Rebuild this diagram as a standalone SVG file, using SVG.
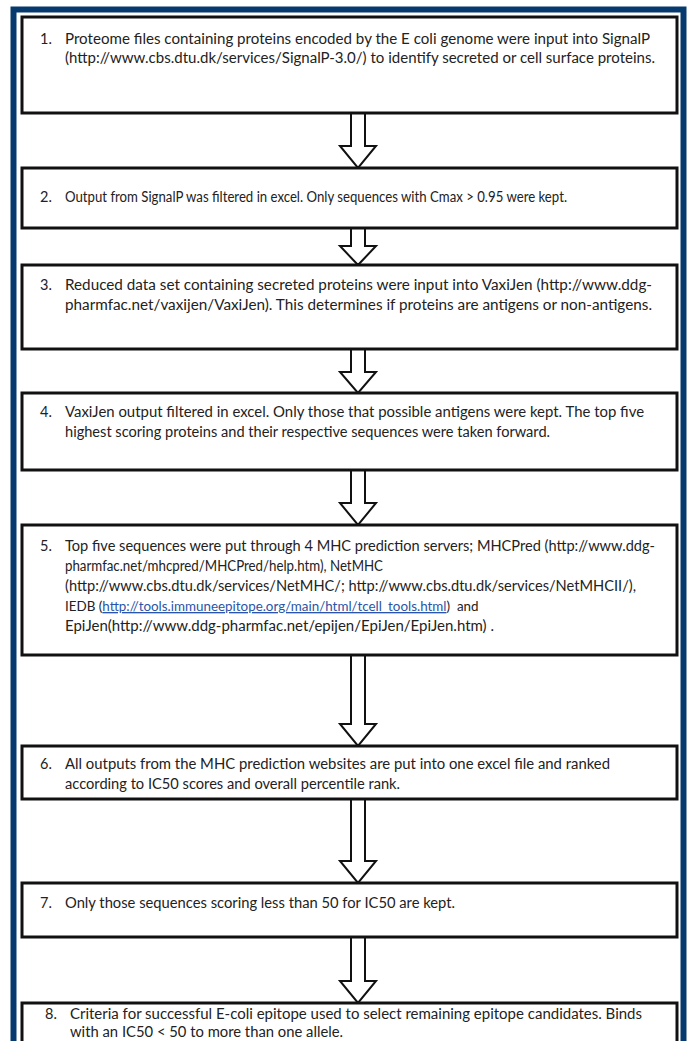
<svg xmlns="http://www.w3.org/2000/svg" width="688" height="1041" viewBox="0 0 688 1041">
<style>
.bg{fill:#fff}
.frame{fill:none;stroke:#063a6e;stroke-width:6}
.box{fill:#fff;stroke:#111;stroke-width:3}
.arr{fill:#fff;stroke:#111;stroke-width:2;stroke-linejoin:miter}
text{font-family:"Lato","Liberation Sans",sans-serif;font-size:14.5px;fill:#222}
.link{fill:#2a55a8;text-decoration:underline}
.sm{font-size:13.4px}
</style>
<rect class="bg" x="0" y="0" width="688" height="1041"/>
<rect class="frame" x="13.5" y="9.5" width="670" height="1100"/>
<g id="connectors">
<polygon class="arr" points="351,113 365,113 365,146 376,146 358,168 340,146 351,146"/>
<polygon class="arr" points="351,228 365,228 365,246 376,246 358,265 340,246 351,246"/>
<polygon class="arr" points="351,349 365,349 365,372 376,372 358,393 340,372 351,372"/>
<polygon class="arr" points="351,470 365,470 365,503 376,503 358,525 340,503 351,503"/>
<polygon class="arr" points="351,655 365,655 365,724 376,724 358,746 340,724 351,724"/>
<polygon class="arr" points="351,799 365,799 365,861 376,861 358,883 340,861 351,861"/>
<polygon class="arr" points="351,937 365,937 365,981 376,981 358,1003 340,981 351,981"/>
</g>
<g id="n1">
<rect class="box" x="22" y="17" width="655" height="96"/>
<text x="40" y="44">1.</text>
<text x="65" y="44" textLength="585" lengthAdjust="spacingAndGlyphs">Proteome files containing proteins encoded by the E coli genome were input into SignalP</text>
<text x="65" y="63" textLength="590" lengthAdjust="spacingAndGlyphs">(http://www.cbs.dtu.dk/services/SignalP-3.0/) to identify secreted or cell surface proteins.</text>
</g>
<g id="n2">
<rect class="box" x="22" y="168" width="655" height="60"/>
<text x="40" y="202">2.</text>
<text x="65" y="202" textLength="502" lengthAdjust="spacingAndGlyphs">Output from SignalP was filtered in excel. Only sequences with Cmax &gt; 0.95 were kept.</text>
</g>
<g id="n3">
<rect class="box" x="22" y="265" width="655" height="84"/>
<text x="40" y="290">3.</text>
<text x="65" y="290" textLength="587" lengthAdjust="spacingAndGlyphs">Reduced data set containing secreted proteins were input into VaxiJen (http://www.ddg-</text>
<text x="65" y="310" textLength="587" lengthAdjust="spacingAndGlyphs">pharmfac.net/vaxijen/VaxiJen). This determines if proteins are antigens or non-antigens.</text>
</g>
<g id="n4">
<rect class="box" x="22" y="393" width="655" height="77"/>
<text x="40" y="417">4.</text>
<text x="65" y="417" textLength="579" lengthAdjust="spacingAndGlyphs">VaxiJen output filtered in excel. Only those that possible antigens were kept. The top five</text>
<text x="65" y="437" textLength="485" lengthAdjust="spacingAndGlyphs">highest scoring proteins and their respective sequences were taken forward.</text>
</g>
<g id="n5">
<rect class="box" x="22" y="525" width="655" height="130"/>
<text x="40" y="551">5.</text>
<text x="65" y="551" textLength="590" lengthAdjust="spacingAndGlyphs">Top five sequences were put through 4 MHC prediction servers; MHCPred (http://www.ddg-</text>
<text x="65" y="571" textLength="318" lengthAdjust="spacingAndGlyphs">pharmfac.net/mhcpred/MHCPred/help.htm), NetMHC</text>
<text x="65" y="591" textLength="571" lengthAdjust="spacingAndGlyphs">(http://www.cbs.dtu.dk/services/NetMHC/; http://www.cbs.dtu.dk/services/NetMHCII/),</text>
<text class="sm" x="65" y="611">IEDB (<tspan class="link">http://tools.immuneepitope.org/main/html/tcell_tools.html</tspan>)&#160; and</text>
<text x="65" y="631" textLength="429" lengthAdjust="spacingAndGlyphs">EpiJen(http://www.ddg-pharmfac.net/epijen/EpiJen/EpiJen.htm) .</text>
</g>
<g id="n6">
<rect class="box" x="22" y="746" width="655" height="53"/>
<text x="40" y="769">6.</text>
<text x="65" y="769" textLength="545" lengthAdjust="spacingAndGlyphs">All outputs from the MHC prediction websites are put into one excel file and ranked</text>
<text x="65" y="789" textLength="335" lengthAdjust="spacingAndGlyphs">according to IC50 scores and overall percentile rank.</text>
</g>
<g id="n7">
<rect class="box" x="22" y="883" width="655" height="54"/>
<text x="40" y="908">7.</text>
<text x="65" y="908" textLength="390" lengthAdjust="spacingAndGlyphs">Only those sequences scoring less than 50 for IC50 are kept.</text>
</g>
<g id="n8">
<rect class="box" x="22" y="1003" width="655" height="60"/>
<text x="45" y="1019">8.</text>
<text x="70" y="1019" textLength="572" lengthAdjust="spacingAndGlyphs">Criteria for successful E-coli epitope used to select remaining epitope candidates. Binds</text>
<text x="70" y="1037" textLength="273" lengthAdjust="spacingAndGlyphs">with an IC50 &lt; 50 to more than one allele.</text>
</g>
</svg>
